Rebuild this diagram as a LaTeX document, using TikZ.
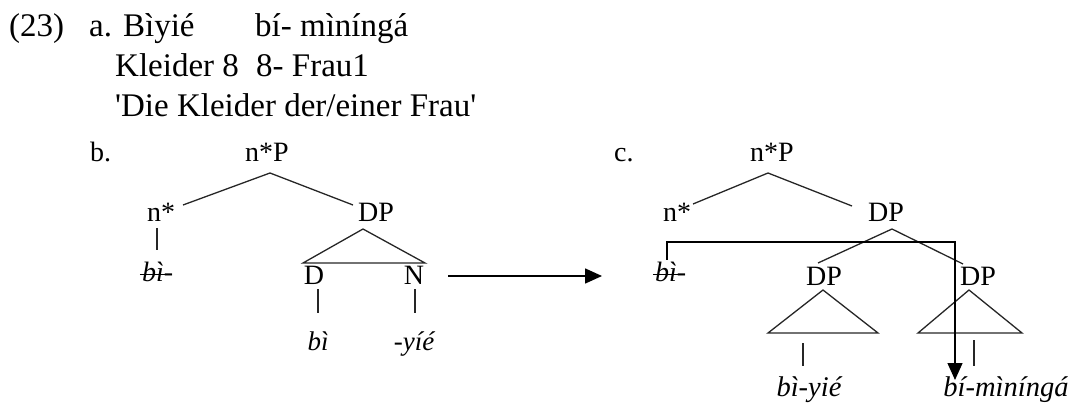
\documentclass[tikz,border=0pt]{standalone}
\usepackage{fontspec}
\setmainfont{Liberation Serif}[Ligatures=TeXOff]
\usetikzlibrary{arrows.meta}
\newcommand\strk[1]{\setbox0\hbox{#1}\rlap{\kern-0.08em\rule[0.2em]{\dimexpr\wd0+0.1em\relax}{0.06em}}\box0}
\begin{document}
\begin{tikzpicture}[x=1pt,y=-1pt,
  txt/.style={inner sep=0pt, anchor=base west, font=\fontsize{33}{40}\selectfont},
  lab/.style={inner sep=0pt, anchor=base, font=\fontsize{28}{32}\selectfont},
  ital/.style={inner sep=0pt, anchor=base, font=\fontsize{27}{32}\selectfont\itshape},
  bot/.style={inner sep=0pt, anchor=base, font=\fontsize{28.5}{32}\selectfont\itshape},
  branch/.style={line width=1.3pt, draw=black!85},
  arr/.style={line width=1.5pt, draw=black, -{Triangle[length=17pt,width=15pt]}}]
\useasboundingbox (0,0) rectangle (1070,403);
% example text
\node[txt] (num) at (9,37) {(23)};
\node[txt] (a1) at (89,37) {a. Bìyié};
\node[txt] (a2) at (255,37) {bí- mìníngá};
\node[txt] (g1) at (115,77) {Kleider 8};
\node[txt] (g2) at (256,77) {8- Frau1};
\node[txt] (tr) at (115,117) {'Die Kleider der/einer Frau'};
% tree b
\node[lab, anchor=base west] (lb) at (90,162) {b.};
\node[lab] (bnP) at (267,162) {n*P};
\node[lab] (bn) at (161,222) {n*};
\node[lab] (bDP) at (376,222) {DP};
\node[lab, anchor=base west] (bbi) at (142,281) {\itshape\strk{bì}-};
\node[lab] (bD) at (314,284) {D};
\node[lab] (bN) at (414,284) {N};
\node[ital] (bbl) at (318,350) {bì};
\node[ital] (byl) at (414,350) {-yíé};
\coordinate (bapex) at (270,173);
\coordinate (bleft) at (183,205);
\coordinate (bright) at (353,205);
\draw[branch] (bleft) -- (bapex) -- (bright);
\coordinate (bv1) at (157,228); \coordinate (bv2) at (157,250);
\draw[branch] (bv1) -- (bv2);
\coordinate (bt1) at (363,229); \coordinate (bt2) at (303,263); \coordinate (bt3) at (425,263);
\draw[branch] (bt1) -- (bt2) -- (bt3) -- cycle;
\coordinate (bd1) at (318,289); \coordinate (bd2) at (318,313);
\coordinate (bn1) at (415,289); \coordinate (bn2) at (415,313);
\draw[branch] (bd1) -- (bd2);
\draw[branch] (bn1) -- (bn2);
% big arrow
\coordinate (ma1) at (448,276); \coordinate (ma2) at (602,276);
\draw[arr] (ma1) -- (ma2);
% tree c
\node[lab, anchor=base west] (lc) at (614,162) {c.};
\node[lab] (cnP) at (772,162) {n*P};
\node[lab] (cn) at (677,222) {n*};
\node[lab] (cDP) at (886,222) {DP};
\node[lab, anchor=base west] (cbi) at (655,281) {\itshape\strk{bì}-};
\node[lab] (cDP1) at (824,285) {DP};
\node[lab] (cDP2) at (978,285) {DP};
\node[bot] (cl1) at (809,396) {bì-yié};
\node[bot] (cl2) at (1006,396) {bí-mìníngá};
\coordinate (capex) at (768,173);
\coordinate (cleft) at (693,204);
\coordinate (cright) at (852,206);
\draw[branch] (cleft) -- (capex) -- (cright);
\coordinate (cdapex) at (892,229);
\coordinate (cdl) at (818,263);
\coordinate (cdr) at (963,264);
\draw[branch] (cdl) -- (cdapex) -- (cdr);
\coordinate (t1a) at (823,290); \coordinate (t1b) at (768,333); \coordinate (t1c) at (878,333);
\draw[branch] (t1a) -- (t1b) -- (t1c) -- cycle;
\coordinate (t2a) at (969,290); \coordinate (t2b) at (918,333); \coordinate (t2c) at (1022,333);
\draw[branch] (t2a) -- (t2b) -- (t2c) -- cycle;
\coordinate (cv1) at (803,343); \coordinate (cv2) at (803,366);
\coordinate (cw1) at (974,340); \coordinate (cw2) at (974,366);
\draw[branch] (cv1) -- (cv2);
\draw[branch] (cw1) -- (cw2);
% movement bracket
\coordinate (m1) at (667,260); \coordinate (m2) at (667,242);
\coordinate (m3) at (955,242); \coordinate (m4) at (955,380);
\draw[arr, line width=1.3pt] (m1) -- (m2) -- (m3) -- (m4);
\end{tikzpicture}
\end{document}
